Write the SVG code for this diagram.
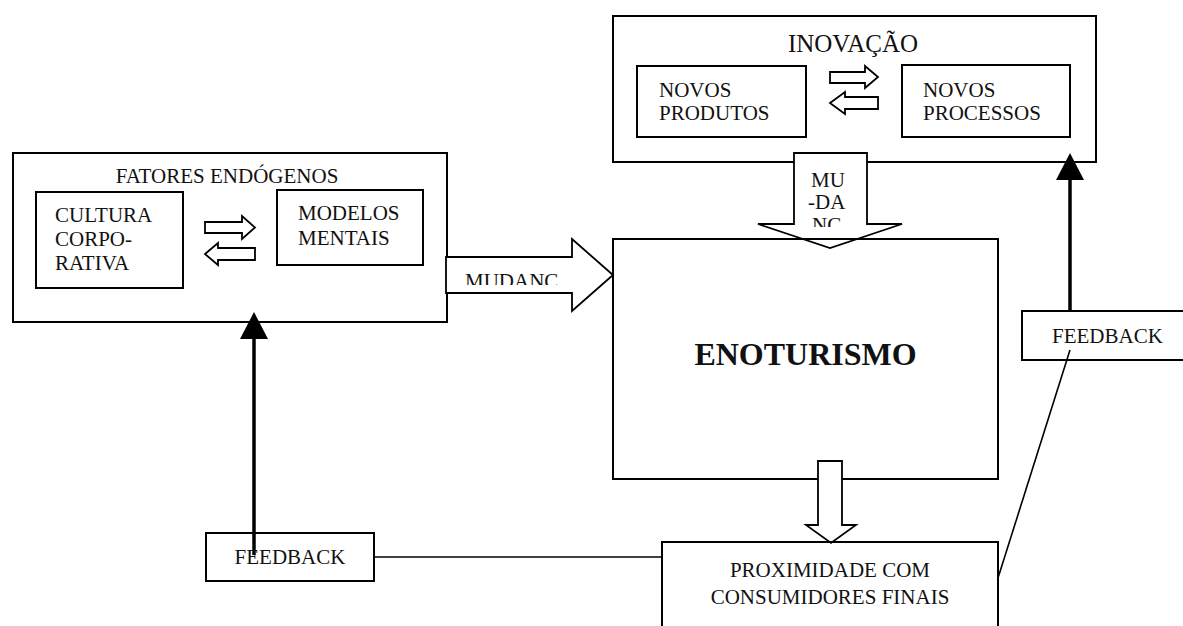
<svg xmlns="http://www.w3.org/2000/svg" width="1183" height="626" viewBox="0 0 1183 626">
<defs>
<style>
.box{fill:none;stroke:#000;stroke-width:2}
.t{font-family:"Liberation Serif","Times New Roman",serif;font-size:21px;fill:#111}
.big{font-size:25px}
.title{font-size:32px;font-weight:bold}
.arr{fill:#fff;stroke:#000;stroke-width:1.8;stroke-linejoin:miter}
.fb{stroke:#000;stroke-width:3.5;fill:none}
.ln{stroke:#000;stroke-width:1.6;fill:none}
</style>
<clipPath id="clipDown"><rect x="795" y="155" width="71" height="72"/></clipPath>
<clipPath id="clipRight"><rect x="447" y="258" width="125" height="27"/></clipPath>
</defs>
<rect width="1183" height="626" fill="#fff"/>

<g id="inovacao">
<rect class="box" x="613" y="16" width="483" height="146"/>
<text class="t big" x="853" y="52" text-anchor="middle">INOVAÇÃO</text>
<g id="novos-produtos">
<rect class="box" x="637" y="66" width="169" height="71"/>
<text class="t" x="659" y="97">NOVOS</text>
<text class="t" x="659" y="120">PRODUTOS</text>
</g>
<g id="novos-processos">
<rect class="box" x="902" y="65" width="168" height="72"/>
<text class="t" x="923" y="97">NOVOS</text>
<text class="t" x="923" y="120">PROCESSOS</text>
</g>
<polygon class="arr" points="830,72 865,72 865,66 878,77 865,88 865,83 830,83"/>
<polygon class="arr" points="878,97 845,97 845,92 830,103 845,114 845,109 878,109"/>
</g>

<g id="fatores">
<rect class="box" x="13" y="153" width="434" height="169"/>
<text class="t" x="227" y="183" text-anchor="middle">FATORES ENDÓGENOS</text>
<g id="cultura">
<rect class="box" x="36" y="192" width="147" height="96"/>
<text class="t" x="55" y="222">CULTURA</text>
<text class="t" x="55" y="246">CORPO-</text>
<text class="t" x="55" y="270">RATIVA</text>
</g>
<g id="modelos">
<rect class="box" x="277" y="190" width="146" height="75"/>
<text class="t" x="298" y="220">MODELOS</text>
<text class="t" x="298" y="245">MENTAIS</text>
</g>
<polygon class="arr" points="205,222 242,222 242,216 255,227.5 242,239 242,233 205,233"/>
<polygon class="arr" points="255,248 218,248 218,243 205,254 218,265 218,260 255,260"/>
</g>

<g id="connectors">
<g id="mudanca-down">
<polygon class="arr" points="794,153 867,153 867,224 902,224 830,248 758,224 794,224"/>
<g clip-path="url(#clipDown)">
<text class="t" x="811" y="187">MU</text>
<text class="t" x="808" y="209">-DA</text>
<text class="t" x="812" y="232">NC</text>
</g>
</g>
<g id="mudanca-right">
<polygon class="arr" points="446,257 572,257 572,239 613,275 572,311 572,293 446,293"/>
<g clip-path="url(#clipRight)">
<text class="t" x="465" y="288">MUDANC</text>
</g>
</g>
<line class="ln" x1="374" y1="557" x2="662" y2="557"/>
<line class="ln" x1="1070" y1="350" x2="998" y2="578"/>
<line class="fb" x1="254" y1="555" x2="254" y2="336"/>
<polygon points="254,312 240,339 268,339" fill="#000"/>
<line class="fb" x1="1070" y1="312" x2="1070" y2="177"/>
<polygon points="1070,153 1056,180 1084,180" fill="#000"/>
</g>

<g id="enoturismo">
<rect class="box" x="613" y="239" width="385" height="240"/>
<text class="t title" x="805.5" y="365" text-anchor="middle">ENOTURISMO</text>
</g>

<g id="seta-proximidade">
<polygon class="arr" points="818,461 842,461 842,525 856,525 831,543 806,525 818,525"/>
</g>

<g id="proximidade">
<rect class="box" x="662" y="542" width="336" height="100"/>
<text class="t" x="830" y="577" text-anchor="middle">PROXIMIDADE COM</text>
<text class="t" x="830" y="604" text-anchor="middle">CONSUMIDORES FINAIS</text>
</g>

<g id="feedback-esq">
<rect class="box" x="206" y="533" width="168" height="48"/>
<text class="t" x="290" y="564" text-anchor="middle">FEEDBACK</text>
</g>

<g id="feedback-dir">
<rect class="box" x="1022" y="311" width="170" height="49"/>
<text class="t" x="1052" y="343">FEEDBACK</text>
</g>
</svg>
